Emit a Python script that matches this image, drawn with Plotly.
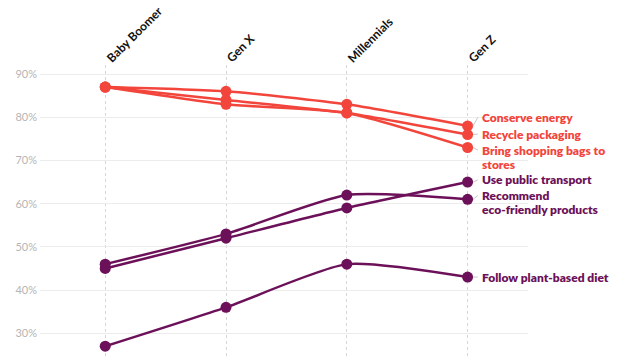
import plotly.graph_objects as go

generations = ["Baby Boomer", "Gen X", "Millennials", "Gen Z"]

conserve_energy = [87, 86, 83, 78]
recycle_packaging = [87, 84, 81, 76]
bring_bags = [87, 83, 81, 73]
public_transport = [45, 52, 59, 65]
recommend_eco = [46, 53, 62, 61]
plant_based = [27, 36, 46, 43]

series_labels = [
    ["Conserve energy"],
    ["Recycle packaging"],
    ["Bring shopping bags to", "stores"],
    ["Use public transport"],
    ["Recommend", "eco-friendly products"],
    ["Follow plant-based diet"],
]
series_values = [conserve_energy, recycle_packaging, bring_bags,
                 public_transport, recommend_eco, plant_based]

RED = "#F2453B"
PURPLE = "#6C1159"
series_colors = [RED, RED, RED, PURPLE, PURPLE, PURPLE]
# label vertical placement (in % units) of the first label line
label_pos = [80.0, 76.1, 72.4, 65.5, 61.9, 43.0]
LINE_STEP = 3.35  # % units between label lines

tick_vals = [30, 40, 50, 60, 70, 80, 90]
tick_text = ["30%", "40%", "50%", "60%", "70%", "80%", "90%"]

FONT = "Lato"

fig = go.Figure()
xs = list(range(len(generations)))
for lines, vals, col in zip(series_labels, series_values, series_colors):
    fig.add_trace(go.Scatter(
        x=xs, y=vals, mode="lines+markers",
        line=dict(color=col, width=2.5, shape="spline", smoothing=0.6),
        marker=dict(color=col, size=11),
        name=" ".join(lines), showlegend=False, hoverinfo="skip",
    ))

annotations = []
shapes = []
last = len(generations) - 1
for lines, vals, col, ly in zip(series_labels, series_values, series_colors, label_pos):
    for k, txt in enumerate(lines):
        annotations.append(dict(
            x=last, y=ly - k * LINE_STEP, xref="x", yref="y", text=txt,
            showarrow=False, xanchor="left", yanchor="middle", xshift=12,
            align="left", font=dict(family=FONT, size=12, color=col, weight=800),
        ))
    shapes.append(dict(
        type="line", xref="x", yref="y",
        x0=last + 0.045, y0=vals[-1], x1=last + 0.085, y1=ly,
        line=dict(color="#c8c8c8", width=1),
    ))

for i, g in enumerate(generations):
    annotations.append(dict(
        x=i, y=1.0, xref="x", yref="paper", text=g,
        showarrow=False, textangle=-45, xanchor="left", yanchor="bottom",
        xshift=-5, yshift=-3,
        font=dict(family=FONT, size=12, color="#111111", weight=700),
    ))

fig.update_layout(
    width=622, height=357,
    margin=dict(l=40, r=94, t=65, b=0),
    paper_bgcolor="white", plot_bgcolor="white",
    annotations=annotations, shapes=shapes,
    xaxis=dict(
        range=[-0.54, 3.5], showticklabels=False, tickvals=xs,
        showgrid=True, gridcolor="#d6d6d6", griddash="dot", gridwidth=1,
        zeroline=False, showline=False, fixedrange=True,
    ),
    yaxis=dict(
        range=[24.5, 92.1], tickvals=tick_vals, ticktext=tick_text,
        showgrid=True, gridcolor="#ececec", gridwidth=1,
        zeroline=False, showline=False, ticks="", ticklen=0,
        tickfont=dict(family=FONT, size=11, color="#b5b5b5"),
        ticklabelstandoff=2, fixedrange=True,
    ),
)

fig.write_html(
    "out.html",
    config={"displayModeBar": False, "staticPlot": True},
    post_script="document.body.style.margin='0';document.body.style.padding='0';",
)
